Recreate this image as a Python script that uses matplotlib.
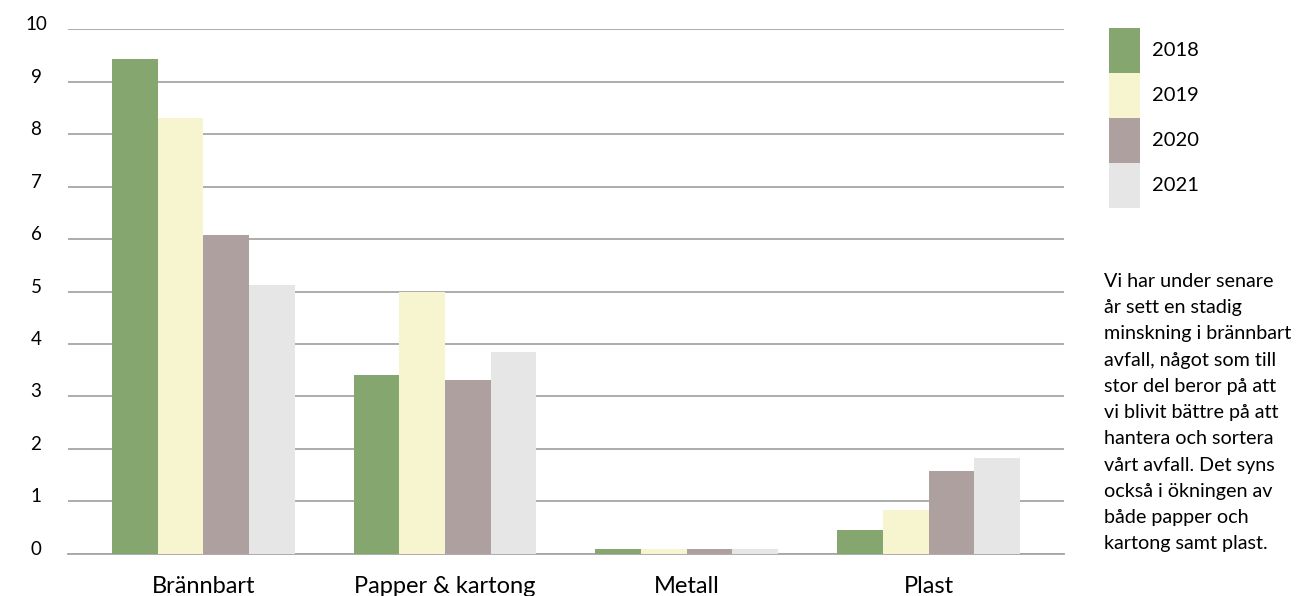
import matplotlib.pyplot as plt
import matplotlib.transforms as mtransforms
import numpy as np

plt.rcParams['font.family'] = ['Lato', 'DejaVu Sans']

categories = ["Brännbart", "Papper & kartong", "Metall", "Plast"]
years = ["2018", "2019", "2020", "2021"]
v2018 = [9.43, 3.41, 0.10, 0.46]
v2019 = [8.30, 5.00, 0.10, 0.84]
v2020 = [6.08, 3.31, 0.10, 1.58]
v2021 = [5.12, 3.85, 0.10, 1.83]
colors = ["#86a66f", "#f7f4d0", "#ada09e", "#e6e6e6"]

note = ("Vi har under senare\når sett en stadig\nminskning i brännbart\n"
        "avfall, något som till\nstor del beror på att\nvi blivit bättre på att\n"
        "hantera och sortera\nvårt avfall. Det syns\nockså i ökningen av\n"
        "både papper och\nkartong samt plast.")

fig = plt.figure(figsize=(13.12, 5.96), dpi=100)
ax = fig.add_axes([0.0518, 0.0705, 0.7591, 0.8808])

x = np.arange(len(categories))
w = 0.189
series = [v2018, v2019, v2020, v2021]
for i, vals in enumerate(series):
    ax.bar(x + (i - 1.5) * w, vals, w, color=colors[i], label=years[i], zorder=3)

ax.set_xlim(-0.56, 3.56)
ax.set_ylim(0, 10)
ax.set_yticks(range(0, 11))
ax.yaxis.grid(True, color="#a6a6a6", linewidth=1.3, zorder=0)
for s in ["top", "right", "left"]:
    ax.spines[s].set_visible(False)
ax.spines["bottom"].set_color("#a6a6a6")
ax.spines["bottom"].set_linewidth(1.3)

ax.set_xticks(x)
ax.set_xticklabels(categories, fontsize=17)
ax.tick_params(axis="x", length=0, pad=16)
ax.tick_params(axis="y", length=0, pad=23, labelsize=13.5)
offset = mtransforms.ScaledTranslation(0, 6 / 100, fig.dpi_scale_trans)
for lbl in ax.get_yticklabels():
    lbl.set_horizontalalignment("center")
    lbl.set_transform(lbl.get_transform() + offset)

leg = ax.legend(loc="upper left", bbox_to_anchor=(1.035, 1.021), frameon=False,
                fontsize=14.5, handlelength=1.55, handleheight=3.05,
                labelspacing=0, handletextpad=0.6, borderpad=0)

fig.text(0.8415, 0.542, note, fontsize=14.2, va="top", ha="left", linespacing=1.66)

fig.savefig("out.png", dpi=100)
